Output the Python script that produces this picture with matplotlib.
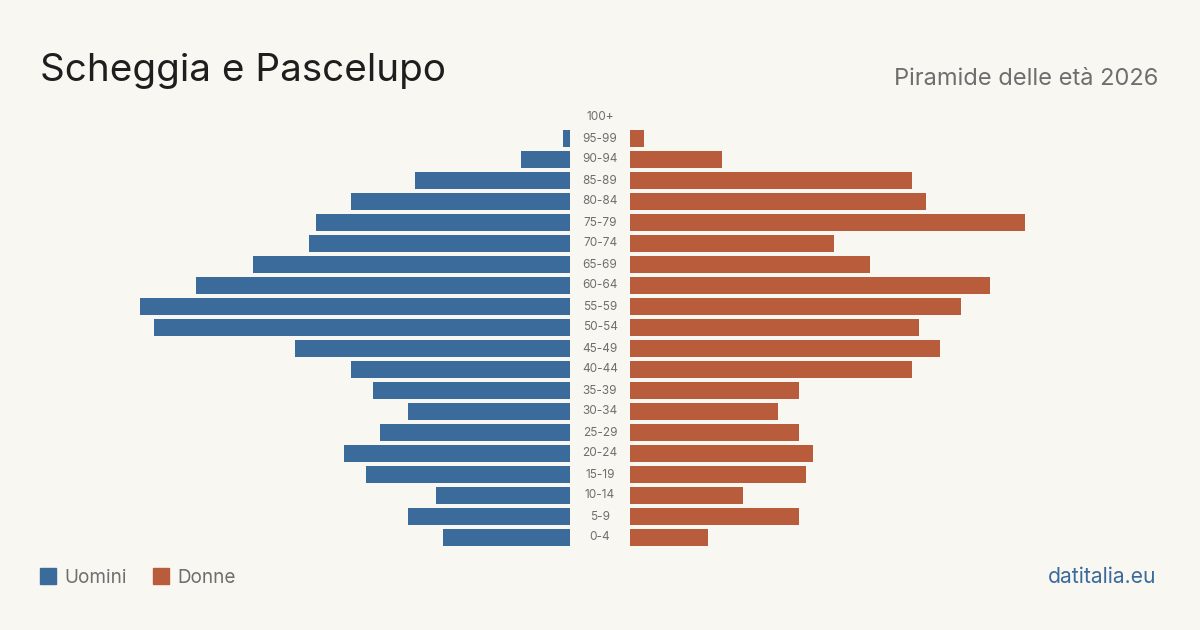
import matplotlib
matplotlib.use("Agg")
import matplotlib.pyplot as plt

age_groups = ["0-4", "5-9", "10-14", "15-19", "20-24", "25-29", "30-34", "35-39",
              "40-44", "45-49", "50-54", "55-59", "60-64", "65-69", "70-74",
              "75-79", "80-84", "85-89", "90-94", "95-99", "100+"]
men = [18, 23, 19, 29, 32, 27, 23, 28, 31, 39, 59, 61, 53, 45, 37, 36, 31, 22, 7, 1, 0]
women = [11, 24, 16, 25, 26, 24, 21, 24, 40, 44, 41, 47, 51, 34, 29, 56, 42, 40, 13, 2, 0]

title = "Scheggia e Pascelupo"
subtitle = "Piramide delle età 2026"
legend_labels = ["Uomini", "Donne"]
source = "datitalia.eu"

BG = "#f9f7f2"
BLUE = "#3b6b9b"
ORANGE = "#b85c3c"
GRAY = "#6e6e6e"
FONT = ["Inter", "DejaVu Sans"]

W, H = 1200, 630
fig = plt.figure(figsize=(W / 100, H / 100), dpi=100, facecolor=BG)

px_per_unit = 7.05
top_px, bot_px = 107.0, 548.0
y0 = 1 - bot_px / H
hh = (bot_px - top_px) / H

axL = fig.add_axes([40 / W, y0, 530 / W, hh])
axR = fig.add_axes([630 / W, y0, 530 / W, hh])
for ax in (axL, axR):
    ax.set_facecolor("none")
    ax.axis("off")
    ax.set_ylim(-0.5, len(age_groups) - 0.5)

ys = list(range(len(age_groups)))
axL.barh(ys, men, height=0.8, color=BLUE)
axL.set_xlim(530 / px_per_unit, 0)
axR.barh(ys, women, height=0.8, color=ORANGE)
axR.set_xlim(0, 530 / px_per_unit)

for i, lab in enumerate(age_groups):
    yc = bot_px - (i + 0.5) * (bot_px - top_px) / len(age_groups)
    fig.text(600 / W, 1 - yc / H, lab, ha="center", va="center",
             fontsize=8.5, color=GRAY, family=FONT)

fig.text(40 / W, 1 - 81 / H, title, ha="left", va="baseline",
         fontsize=27.8, color="#1e1e1e", family=FONT)
fig.text(1158 / W, 1 - 85 / H, subtitle, ha="right", va="baseline",
         fontsize=17, color=GRAY, family=FONT)

fig.patches.append(plt.Rectangle((40 / W, 1 - 584 / H), 16 / W, 16 / H,
                                 transform=fig.transFigure, color=BLUE))
fig.text(64 / W, 1 - 583 / H, legend_labels[0], ha="left", va="baseline",
         fontsize=13.6, color=GRAY, family=FONT)
fig.patches.append(plt.Rectangle((153 / W, 1 - 584 / H), 16 / W, 16 / H,
                                 transform=fig.transFigure, color=ORANGE))
fig.text(177 / W, 1 - 583 / H, legend_labels[1], ha="left", va="baseline",
         fontsize=13.6, color=GRAY, family=FONT)

fig.text(1156 / W, 1 - 583 / H, source, ha="right", va="baseline",
         fontsize=15.2, color=BLUE, family=FONT)

fig.savefig("out.png", dpi=100, facecolor=BG)
